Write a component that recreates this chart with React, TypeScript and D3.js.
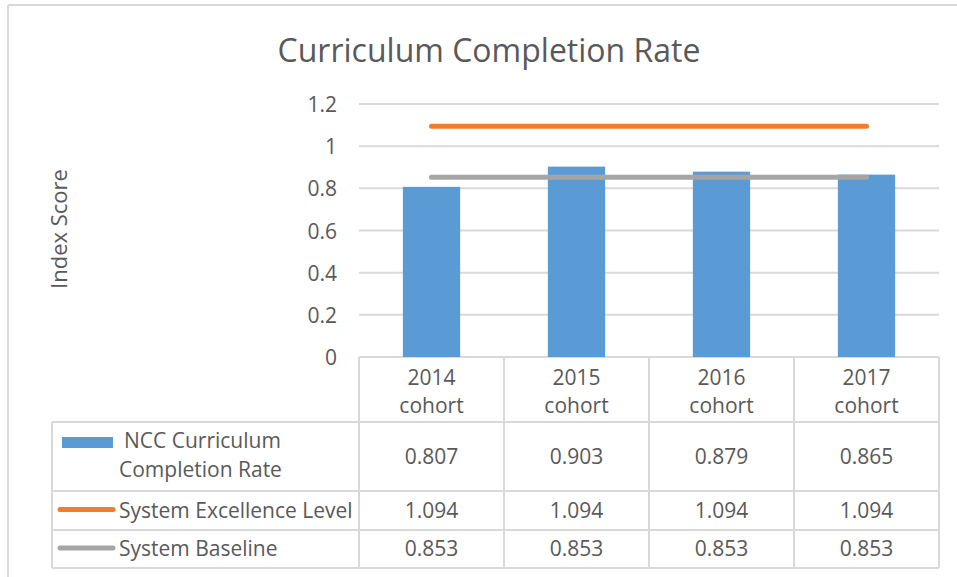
import React from "react";
import * as d3 from "d3";

const categories = ["2014 cohort", "2015 cohort", "2016 cohort", "2017 cohort"];
const completionRate = [0.807, 0.903, 0.879, 0.865];
const excellenceLevel = [1.094, 1.094, 1.094, 1.094];
const baseline = [0.853, 0.853, 0.853, 0.853];
const yTicks = [0, 0.2, 0.4, 0.6, 0.8, 1, 1.2];
const seriesNames = ["NCC Curriculum Completion Rate", "System Excellence Level", "System Baseline"];
const title = "Curriculum Completion Rate";
const yLabel = "Index Score";

const W = 957;
const H = 577;
const FONT = "'Open Sans', sans-serif";
const TEXT = "#595959";
const GRID = "#d9d9d9";
const BLUE = "#5b9bd5";
const ORANGE = "#ed7d31";
const GRAY = "#a5a5a5";
const FS = 21;

export default function App() {
  const plotLeft = 359;
  const plotRight = 939;
  const x = d3.scaleBand<string>().domain(categories).range([plotLeft, plotRight]).paddingInner(0).paddingOuter(0);
  const y = d3.scaleLinear().domain([0, 1.2]).range([357, 104]);
  const barW = x.bandwidth() * 0.395;
  const cx = (c: string) => (x(c) as number) + x.bandwidth() / 2;
  const line = d3
    .line<number>()
    .x((_, i) => cx(categories[i]))
    .y((d) => y(d));
  const fmt = d3.format(".3f");

  const tableLeft = 52;
  const rowY = [357, 422, 491, 530, 568];
  const colXs = categories.map((c) => x(c) as number).concat([plotRight]);
  const seriesRows = [completionRate, excellenceLevel, baseline];
  const valueBaselines = [464, 518, 556];

  return (
    <svg width={W} height={H} style={{ position: "absolute", left: 0, top: 0, background: "#fff" }} fontFamily={FONT}>
      <rect x={0} y={0} width={W} height={H} fill="#fff" />
      {/* outer frame */}
      <line x1={8} y1={5} x2={W} y2={5} stroke={GRID} strokeWidth={2} />
      <line x1={8} y1={5} x2={8} y2={H} stroke={GRID} strokeWidth={2} />

      <text x={489} y={62} textAnchor="middle" fontSize={32} fill={TEXT}>
        {title}
      </text>

      {/* gridlines */}
      {yTicks.map((t) => (
        <line key={t} x1={plotLeft} x2={plotRight} y1={y(t)} y2={y(t)} stroke={GRID} strokeWidth={2} />
      ))}
      {yTicks.map((t) => (
        <text key={"l" + t} x={337} y={y(t) + 8} textAnchor="end" fontSize={FS} fill={TEXT}>
          {String(t)}
        </text>
      ))}
      <text transform={`translate(67,229) rotate(-90)`} textAnchor="middle" fontSize={22} fill={TEXT}>
        {yLabel}
      </text>

      {/* bars */}
      {categories.map((c, i) => (
        <rect key={c} x={cx(c) - barW / 2} width={barW} y={y(completionRate[i])} height={y(0) - y(completionRate[i])} fill={BLUE} />
      ))}
      <path d={line(excellenceLevel) || ""} fill="none" stroke={ORANGE} strokeWidth={5} strokeLinecap="round" />
      <path d={line(baseline) || ""} fill="none" stroke={GRAY} strokeWidth={5} strokeLinecap="round" />

      {/* table grid */}
      {colXs.map((cxv, i) => (
        <line key={"v" + i} x1={cxv} x2={cxv} y1={rowY[0]} y2={rowY[4]} stroke={GRID} strokeWidth={2} />
      ))}
      <line x1={tableLeft} x2={tableLeft} y1={rowY[1]} y2={rowY[4]} stroke={GRID} strokeWidth={2} />
      {rowY.slice(1).map((ry, i) => (
        <line key={"h" + i} x1={tableLeft} x2={plotRight} y1={ry} y2={ry} stroke={GRID} strokeWidth={2} />
      ))}

      {/* category headers */}
      {categories.map((c) => {
        const [a, b] = c.split(" ");
        return (
          <g key={"c" + c}>
            <text x={cx(c)} y={385} textAnchor="middle" fontSize={FS} fill={TEXT}>
              {a}
            </text>
            <text x={cx(c)} y={413} textAnchor="middle" fontSize={FS} fill={TEXT}>
              {b}
            </text>
          </g>
        );
      })}

      {/* legend cells */}
      <rect x={62} y={437} width={51} height={11} fill={BLUE} />
      <text x={124} y={448} fontSize={FS} fill={TEXT}>
        NCC Curriculum
      </text>
      <text x={119} y={477} fontSize={FS} fill={TEXT}>
        Completion Rate
      </text>
      <line x1={60} x2={113} y1={509.5} y2={509.5} stroke={ORANGE} strokeWidth={5} strokeLinecap="round" />
      <text x={119} y={518} fontSize={FS} fill={TEXT}>
        {seriesNames[1]}
      </text>
      <line x1={60} x2={113} y1={548} y2={548} stroke={GRAY} strokeWidth={5} strokeLinecap="round" />
      <text x={119} y={556} fontSize={FS} fill={TEXT}>
        {seriesNames[2]}
      </text>

      {/* values */}
      {seriesRows.map((vals, r) =>
        categories.map((c, i) => (
          <text key={"v" + r + i} x={cx(c)} y={valueBaselines[r]} textAnchor="middle" fontSize={FS} fill={TEXT}>
            {fmt(vals[i])}
          </text>
        ))
      )}
    </svg>
  );
}
